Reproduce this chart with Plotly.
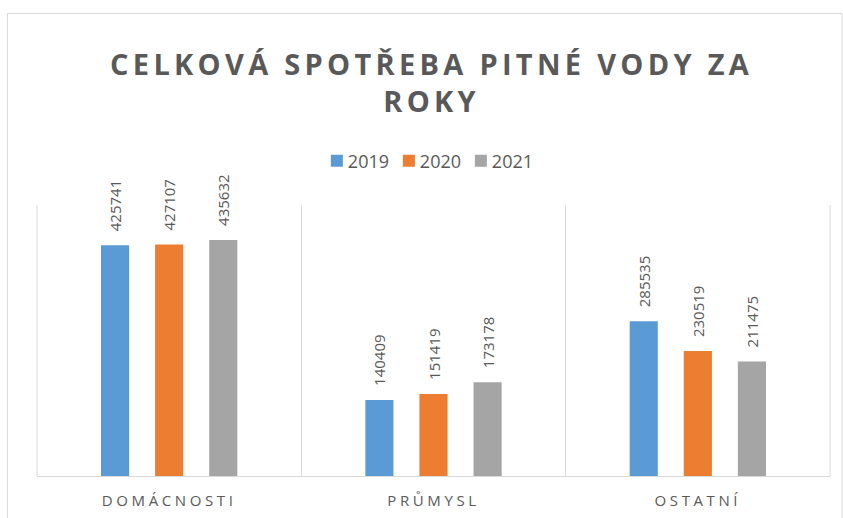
import plotly.graph_objects as go

categories = ["DOMÁCNOSTI", "PRŮMYSL", "OSTATNÍ"]
years = ["2019", "2020", "2021"]
values_2019 = [425741, 140409, 285535]
values_2020 = [427107, 151419, 230519]
values_2021 = [435632, 173178, 211475]
colors = ["#5B9BD5", "#ED7D31", "#A5A5A5"]

series = [values_2019, values_2020, values_2021]

fig = go.Figure()
for name, vals, col in zip(years, series, colors):
    fig.add_trace(go.Bar(
        x=categories, y=vals, name=name,
        marker=dict(color=col, line=dict(width=0)),
        text=[str(v) for v in vals],
        textposition="outside",
        textangle=-90,
        constraintext="none",
        textfont=dict(family="Open Sans", size=15, color="#595959"),
        cliponaxis=False,
    ))

W, H = 843, 518
L, R, T, B = 37, 13, 205, 42
pw = W - L - R
ph = H - T - B

def px_x(x):
    return (x - L) / pw

def px_y(y):
    return (H - B - y) / ph

fig.update_layout(
    width=W, height=H,
    margin=dict(l=L, r=R, t=T, b=B, autoexpand=False),
    paper_bgcolor="white", plot_bgcolor="white",
    barmode="group", bargap=0.386, bargroupgap=0.48,
    title=dict(
        text="CELKOVÁ SPOTŘEBA PITNÉ VODY ZA<br>ROKY",
        x=0.512, xanchor="center", y=0.856, yanchor="middle",
        font=dict(family="Open Sans", size=29, color="#595959", weight="bold"),
    ),
    legend=dict(
        orientation="h", xref="container", x=0.504, xanchor="center",
        yref="container", y=0.689, yanchor="middle",
        font=dict(family="Open Sans", size=18, color="#595959"),
        itemwidth=30, traceorder="normal",
        entrywidth=27, entrywidthmode="pixels",
    ),
    xaxis=dict(
        showgrid=True, tickson="boundaries", gridcolor="#D9D9D9", gridwidth=1,
        showline=True, linecolor="#D9D9D9", linewidth=1,
        ticks="", tickfont=dict(family="Open Sans", size=15, color="#595959"),
        ticklabelstandoff=11, automargin=False,
        range=[-0.5, 2.5],
    ),
    yaxis=dict(
        range=[0, 500000], showgrid=False, showticklabels=False,
        zeroline=False, showline=False, ticks="", automargin=False,
    ),
    shapes=[
        dict(type="rect", xref="paper", yref="paper",
             x0=px_x(7.5), x1=px_x(842), y0=px_y(525), y1=px_y(13.5),
             line=dict(color="#D9D9D9", width=1), layer="below"),
        dict(type="line", xref="paper", yref="paper",
             x0=0, x1=0, y0=0, y1=1,
             line=dict(color="#D9D9D9", width=1), layer="below"),
        dict(type="line", xref="paper", yref="paper",
             x0=1, x1=1, y0=0, y1=1,
             line=dict(color="#D9D9D9", width=1), layer="below"),
    ],
    showlegend=True,
)

post = """
document.body.style.margin='0';
var gd = document.getElementsByClassName('plotly-graph-div')[0];
function sp(){
  gd.querySelectorAll('.gtitle').forEach(function(t){t.style.letterSpacing='4.3px';});
  gd.querySelectorAll('.xtick text').forEach(function(t){t.style.letterSpacing='3.6px';});
  gd.querySelectorAll('.legendtext').forEach(function(t){t.setAttribute('x', '31');});
  gd.querySelectorAll('.bartext').forEach(function(t){
    if(!t.dataset.shifted){
      var tr = t.getAttribute('transform') || '';
      t.setAttribute('transform', 'translate(0,-11) ' + tr);
      t.dataset.shifted = '1';
    }
  });
}
sp();
"""

fig.write_html("out.html", post_script=post, config={"displayModeBar": False})
